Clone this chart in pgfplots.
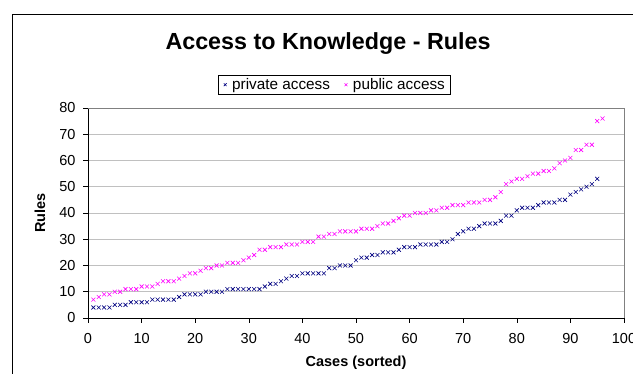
\documentclass[border=0pt]{standalone}
\usepackage{pgfplots}
\pgfplotsset{compat=1.18}
\usepackage{fontspec}
\setmainfont{Liberation Sans}
\definecolor{navyc}{RGB}{0,0,128}
\definecolor{magc}{RGB}{255,0,255}
\definecolor{gridc}{RGB}{192,192,192}
\begin{document}
\begin{tikzpicture}[x=1pt,y=1pt]
\path[use as bounding box] (0,0) rectangle (633,374);
\clip (0,0) rectangle (633,374);
\draw[black, line width=0.8pt] (12,360) rectangle (700,-20);
\node[font=\fontsize{23.3}{27}\selectfont\bfseries] at (328,330) {Access to Knowledge - Rules};
\begin{axis}[
  at={(88pt,56pt)}, anchor=south west,
  scale only axis, width=536pt, height=210pt,
  xmin=0, xmax=100, ymin=0, ymax=80,
  xtick={0,10,...,100}, ytick={0,10,...,80},
  axis x line*=bottom, axis y line*=left,
  axis line style={black, line width=0.6pt},
  tick align=outside, tick style={black, line width=0.6pt},
  major tick length=5pt,
  ymajorgrids, grid style={gridc, line width=0.6pt},
  /pgf/number format/assume math mode=true,
  tick label style={font=\fontsize{14.5}{17}\selectfont},
  xticklabel style={yshift=-7pt},
  yticklabel style={xshift=-4pt},
  xlabel={\textbf{Cases (sorted)}}, ylabel={\textbf{Rules}},
  label style={font=\fontsize{14.5}{17}\selectfont},
  xlabel style={at={(axis description cs:0.5,-0.212)}, anchor=center},
  ylabel style={at={(axis description cs:-0.0896,0.5)}, anchor=center},
  legend columns=2,
  legend style={at={(0.459,1.111)}, anchor=center, draw=black, line width=0.6pt, font=\fontsize{15.3}{17}\selectfont, inner xsep=3pt, inner ysep=1pt, /tikz/every even column/.append style={column sep=10pt}},
  legend image code/.code={\draw[#1, mark size=2pt, line width=0.5pt] plot coordinates {(0pt,0pt)}; \path[draw=none, fill=none] (-4pt,0pt) -- (5pt,0pt);},
  clip=false,
]
\draw[gray, line width=0.6pt] (rel axis cs:0,1) -- (rel axis cs:1,1) -- (rel axis cs:1,0);
\addplot[only marks, mark=x, mark size=2.8pt, navyc, mark options={line width=0.6pt}] table {
x y
1 4
2 4
3 4
4 4
5 5
6 5
7 5
8 6
9 6
10 6
11 6
12 7
13 7
14 7
15 7
16 7
17 8
18 9
19 9
20 9
21 9
22 10
23 10
24 10
25 10
26 11
27 11
28 11
29 11
30 11
31 11
32 11
33 12
34 13
35 13
36 14
37 15
38 16
39 16
40 17
41 17
42 17
43 17
44 17
45 19
46 19
47 20
48 20
49 20
50 22
51 23
52 23
53 24
54 24
55 25
56 25
57 25
58 26
59 27
60 27
61 27
62 28
63 28
64 28
65 28
66 29
67 29
68 30
69 32
70 33
71 34
72 34
73 35
74 36
75 36
76 36
77 37
78 39
79 39
80 41
81 42
82 42
83 42
84 43
85 44
86 44
87 44
88 45
89 45
90 47
91 48
92 49
93 50
94 51
95 53
};
\addlegendentry{private access}
\addplot[only marks, mark=x, mark size=2.8pt, magc, mark options={line width=0.6pt}] table {
x y
1 7
2 8
3 9
4 9
5 10
6 10
7 11
8 11
9 11
10 12
11 12
12 12
13 13
14 14
15 14
16 14
17 15
18 16
19 17
20 17
21 18
22 19
23 19
24 20
25 20
26 21
27 21
28 21
29 22
30 23
31 24
32 26
33 26
34 27
35 27
36 27
37 28
38 28
39 28
40 29
41 29
42 29
43 31
44 31
45 32
46 32
47 33
48 33
49 33
50 33
51 34
52 34
53 34
54 35
55 36
56 36
57 37
58 38
59 39
60 39
61 40
62 40
63 40
64 41
65 41
66 42
67 42
68 43
69 43
70 43
71 44
72 44
73 44
74 45
75 45
76 46
77 48
78 51
79 52
80 53
81 53
82 54
83 55
84 55
85 56
86 56
87 57
88 59
89 60
90 61
91 64
92 64
93 66
94 66
95 75
96 76
};
\addlegendentry{public access}
\end{axis}
\end{tikzpicture}
\end{document}
